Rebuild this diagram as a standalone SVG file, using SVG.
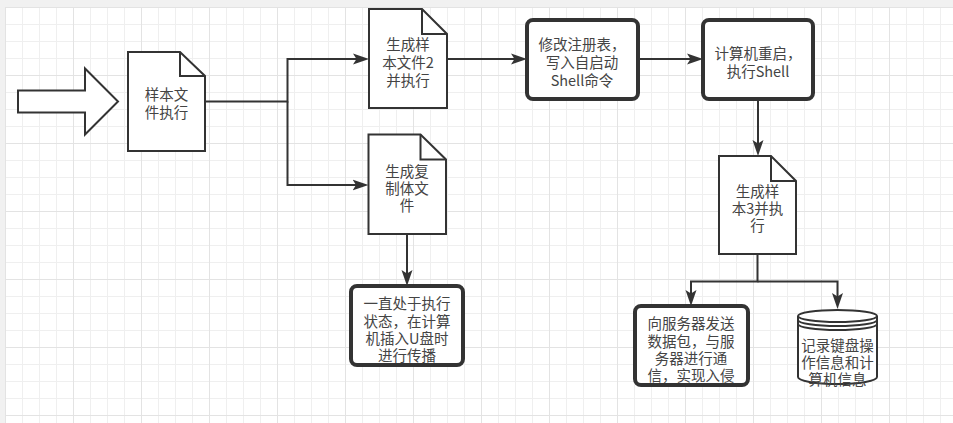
<svg xmlns="http://www.w3.org/2000/svg" width="953" height="423" viewBox="0 0 953 423">
<defs>
<pattern id="grid" patternUnits="userSpaceOnUse" x="5" y="7" width="68" height="68">
<rect width="68" height="68" fill="#ffffff"/>
<path d="M17.5,0 V68 M34.5,0 V68 M51.5,0 V68 M0,17.5 H68 M0,34.5 H68 M0,51.5 H68" stroke="#efefef" stroke-width="1" fill="none"/>
<path d="M0.5,0 V68 M0,0.5 H68" stroke="#e3e3e3" stroke-width="1" fill="none"/>
</pattern>
<marker id="arr" viewBox="0 0 16 12" refX="10" refY="6" markerWidth="16" markerHeight="12" markerUnits="userSpaceOnUse" orient="auto">
<path d="M0,0.5 L16,6 L0,11.5 L3.5,6 Z" fill="#333333"/>
</marker>
</defs>
<style>
.doc{fill:#ffffff;stroke:#333333;stroke-width:2;stroke-linejoin:miter}
.fold{fill:none;stroke:#333333;stroke-width:2}
.box{fill:#ffffff;stroke:#333333;stroke-width:4}
.conn{fill:none;stroke:#333333;stroke-width:2}
text{font-family:"Noto Sans CJK SC","Noto Sans",sans-serif;font-size:14.5px;fill:#444444;text-anchor:middle;dominant-baseline:central}
</style>
<rect x="0" y="0" width="953" height="423" fill="#f1f1f1"/>
<rect x="5" y="7" width="948" height="416" fill="url(#grid)"/>

<g id="connectors">
<path class="conn" d="M205,101.5 H287.5 V59 H363" marker-end="url(#arr)"/>
<path class="conn" d="M287.5,101.5 V185 H362.5" marker-end="url(#arr)"/>
<path class="conn" d="M447,59 H521" marker-end="url(#arr)"/>
<path class="conn" d="M638,59 H697" marker-end="url(#arr)"/>
<path class="conn" d="M758,99 V150" marker-end="url(#arr)"/>
<path class="conn" d="M407,234 V280" marker-end="url(#arr)"/>
<path class="conn" d="M757.5,254 V281.5 H691 V300" marker-end="url(#arr)"/>
<path class="conn" d="M757.5,281.5 H837.5 V303" marker-end="url(#arr)"/>
</g>

<g id="start-arrow">
<polygon points="18,90.5 85,90.5 85,68.5 118,101.5 85,134.5 85,112.5 18,112.5" fill="#ffffff" stroke="#333333" stroke-width="2"/>
</g>

<g id="doc1">
<path class="doc" d="M128,52 H180 L205,76 V151 H128 Z"/>
<path class="fold" d="M180,52 V76 H205"/>
<text><tspan x="166.5" y="93">样本文</tspan><tspan x="166.5" y="111">件执行</tspan></text>
</g>

<g id="doc2">
<path class="doc" d="M369,9 H422 L447,34 V108 H369 Z"/>
<path class="fold" d="M422,9 V34 H447"/>
<text><tspan x="408" y="43">生成样</tspan><tspan x="408" y="61">本文件2</tspan><tspan x="408" y="79">并执行</tspan></text>
</g>

<g id="doc3">
<path class="doc" d="M368.5,134.5 H420.5 L446,159.5 V234 H368.5 Z"/>
<path class="fold" d="M420.5,134.5 V159.5 H446"/>
<text><tspan x="407" y="169.5">生成复</tspan><tspan x="407" y="187">制体文</tspan><tspan x="407" y="204">件</tspan></text>
</g>

<g id="box4">
<rect class="box" x="351" y="286" width="112" height="79" rx="6"/>
<text><tspan x="407" y="302">一直处于执行</tspan><tspan x="407" y="319.5">状态，在计算</tspan><tspan x="407" y="337">机插入U盘时</tspan><tspan x="407" y="354">进行传播</tspan></text>
</g>

<g id="box5">
<rect class="box" x="527" y="20" width="111" height="79" rx="6"/>
<text><tspan x="582" y="43">修改注册表，</tspan><tspan x="582" y="61">写入自启动</tspan><tspan x="582" y="78.5">Shell命令</tspan></text>
</g>

<g id="box6">
<rect class="box" x="703" y="20" width="110" height="79" rx="6"/>
<text><tspan x="758" y="52">计算机重启，</tspan><tspan x="758" y="69.5">执行Shell</tspan></text>
</g>

<g id="doc7">
<path class="doc" d="M719,156 H771 L796,181 V254 H719 Z"/>
<path class="fold" d="M771,156 V181 H796"/>
<text><tspan x="757.5" y="189.5">生成样</tspan><tspan x="757.5" y="207">本3并执</tspan><tspan x="757.5" y="223.5">行</tspan></text>
</g>

<g id="box8">
<rect class="box" x="635" y="306" width="113" height="79" rx="6"/>
<text><tspan x="691" y="322">向服务器发送</tspan><tspan x="691" y="339.5">数据包，与服</tspan><tspan x="691" y="357">务器进行通</tspan><tspan x="691" y="373.5">信，实现入侵</tspan></text>
</g>

<g id="datastore">
<path class="doc" d="M798,316 A39.5,6 0 0 1 877,316 V377 A39.5,7 0 0 1 798,377 Z"/>
<path class="fold" d="M798,316 A39.5,6 0 0 0 877,316 M798,320 A39.5,6 0 0 0 877,320 M798,324 A39.5,6 0 0 0 877,324" stroke-width="1.5"/>
<text><tspan x="837.5" y="343.5">记录键盘操</tspan><tspan x="837.5" y="361">作信息和计</tspan><tspan x="837.5" y="377.5">算机信息</tspan></text>
</g>
</svg>
